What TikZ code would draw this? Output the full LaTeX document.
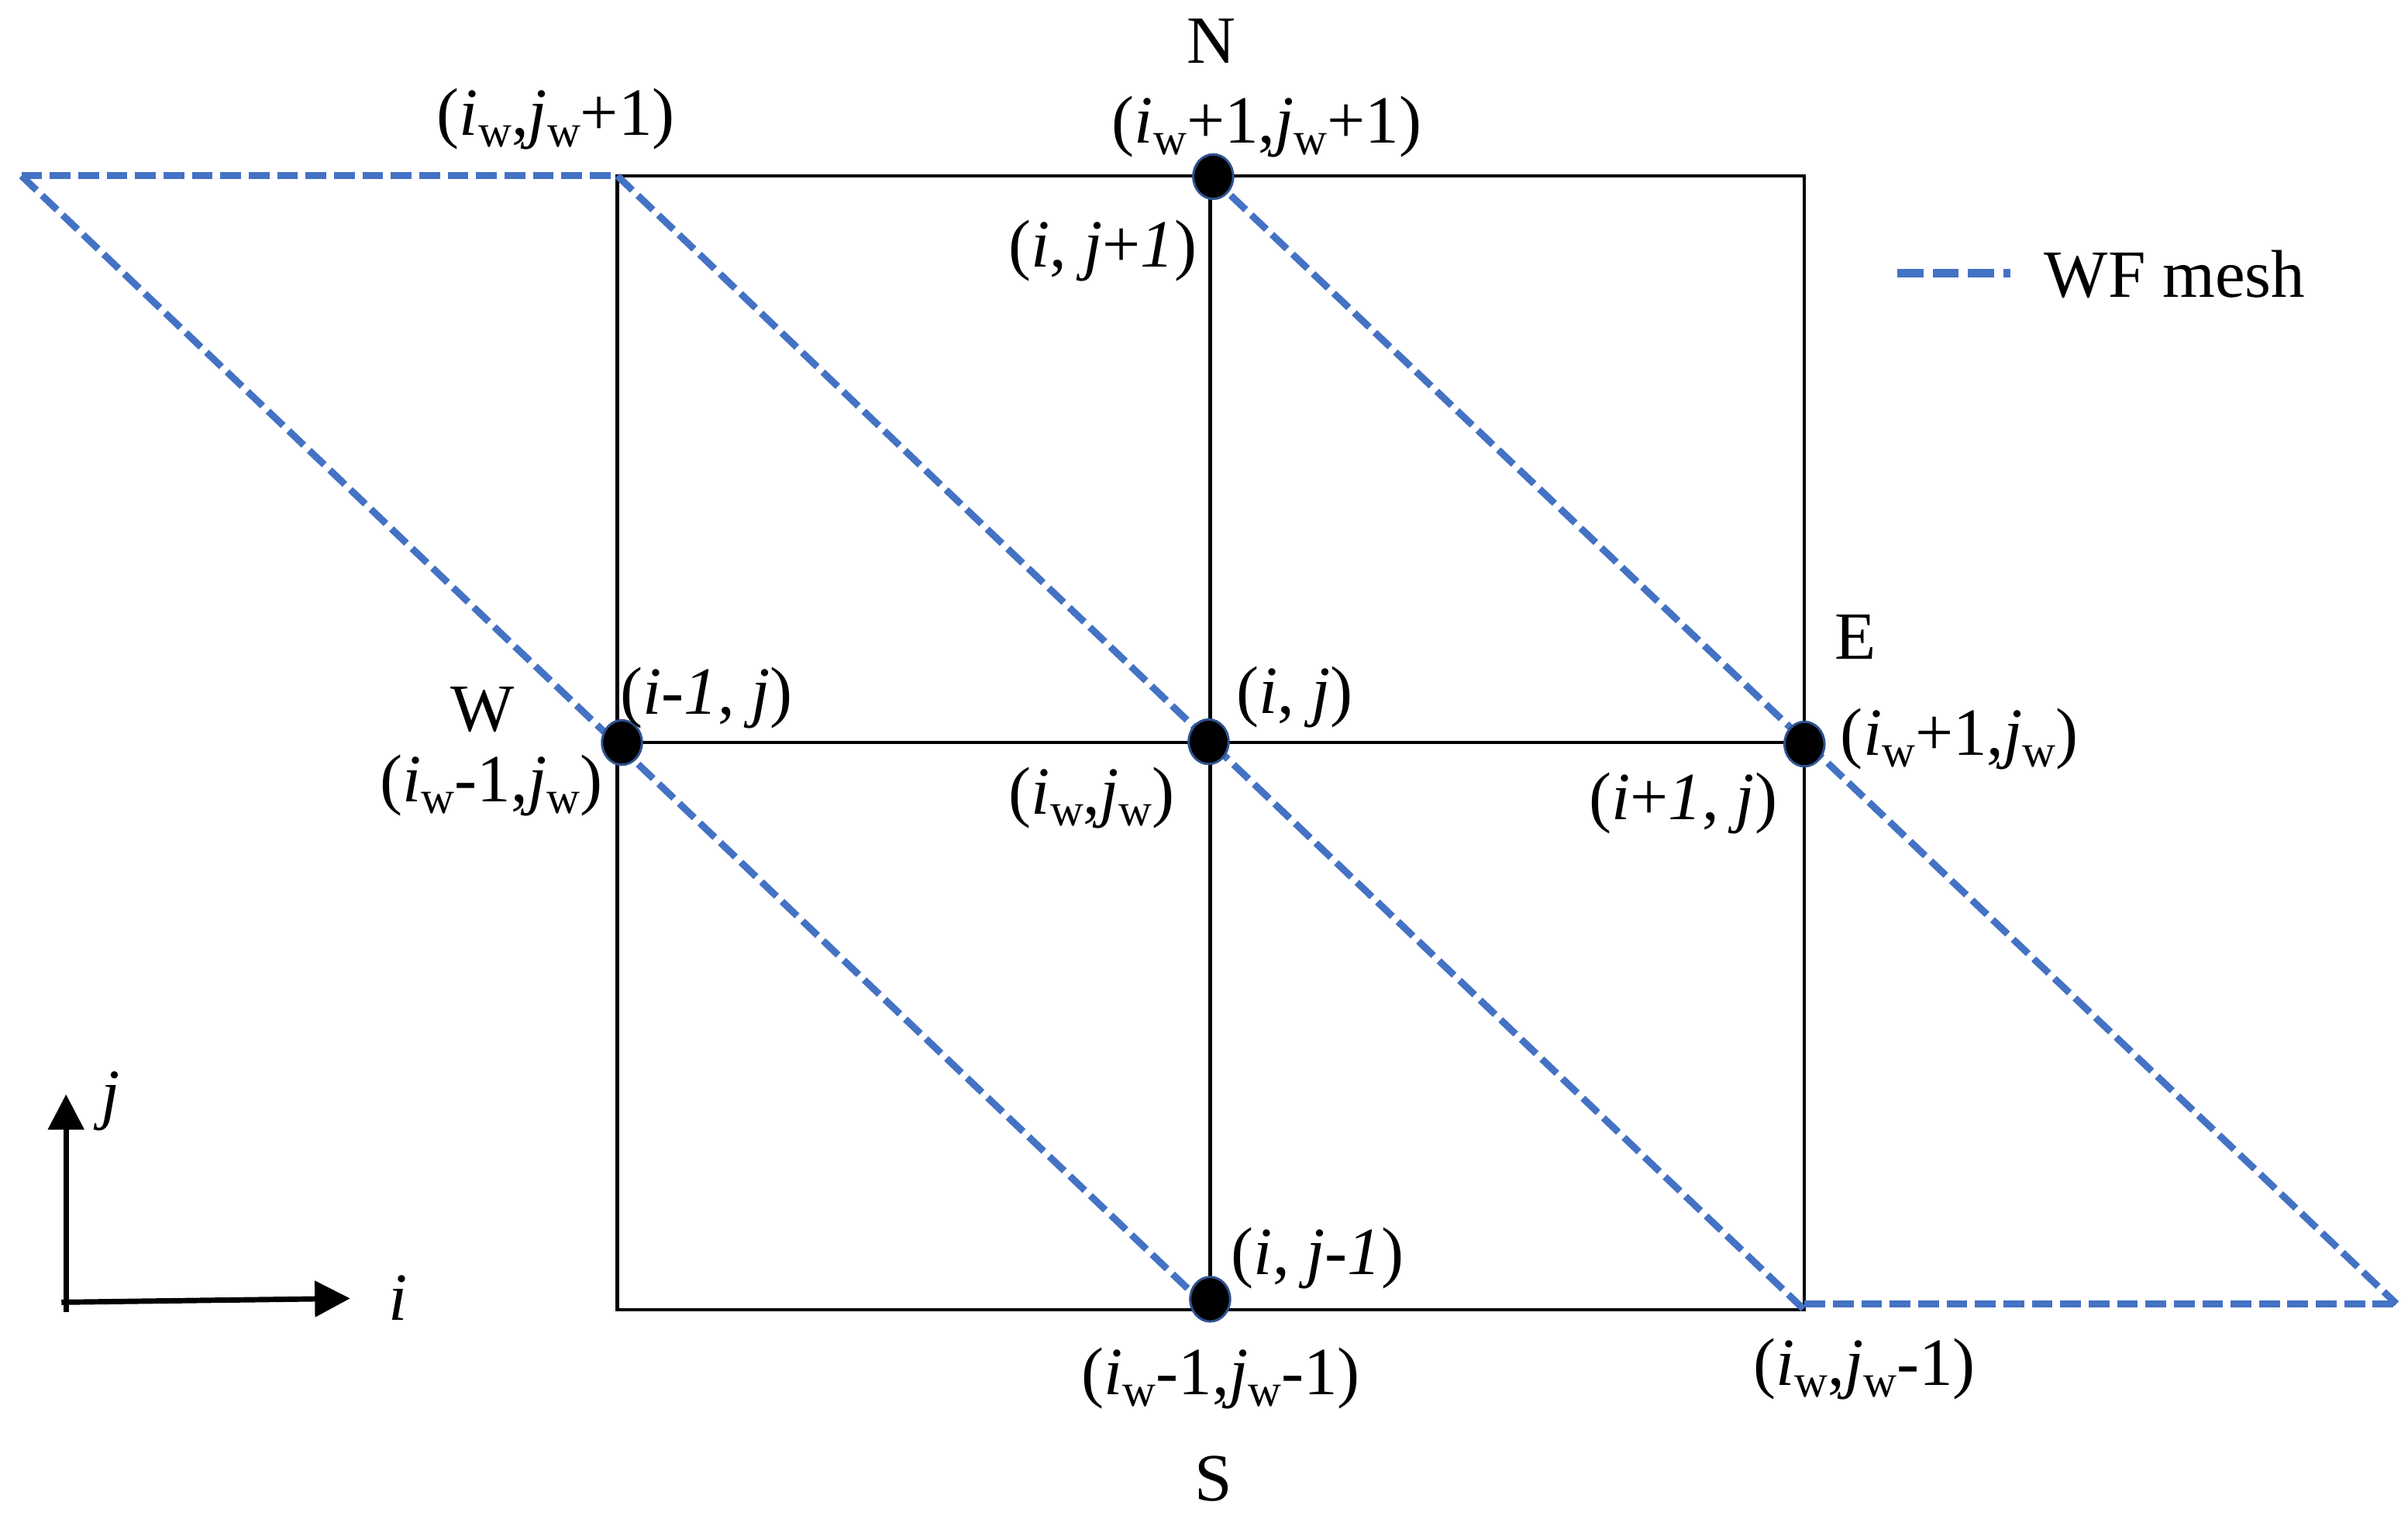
\documentclass[tikz,border=0pt]{standalone}
\usepackage{fontspec}
\setmainfont{Liberation Serif}
\usetikzlibrary{arrows.meta,shapes.geometric}
\definecolor{meshblue}{HTML}{4472C4}
\definecolor{dotedge}{HTML}{2F528F}
\newcommand\wsb{\raisebox{-7.5pt}{\fontsize{30}{30}\selectfont w}}
\newcommand\iw{\textit{i}\wsb}
\newcommand\jw{\textit{j}\wsb}
\begin{document}
\begin{tikzpicture}[x=1pt,y=-1pt,
  lbl/.style={inner sep=0pt, anchor=base, font=\fontsize{44}{50}\selectfont},
  gridline/.style={line width=2.2pt, black},
  wfmesh/.style={meshblue, line width=4.5pt, dash pattern=on 13.5pt off 5pt},
  legmesh/.style={meshblue, line width=5.5pt, dash pattern=on 17pt off 6pt},
  meshdot/.style={ellipse, fill=black, draw=dotedge, line width=1.5pt, minimum width=26pt, minimum height=29pt, inner sep=0pt},
  axisarrow/.style={line width=3.5pt, -{Triangle[length=23pt,width=23pt]}}]
\useasboundingbox (0,0) rectangle (1568,989);

% grid corner coordinates
\coordinate (TLw) at (14,114.5);
\coordinate (TL) at (402,114.5);
\coordinate (TR) at (1175,114.5);
\coordinate (BL) at (402,853);
\coordinate (BR) at (1175,853);
\coordinate (Ntop) at (788,114.5);
\coordinate (Sbot) at (788,853);
\coordinate (Wmid) at (402,483.5);
\coordinate (Emid) at (1175,483.5);
\coordinate (BRw) at (1175,849);
\coordinate (BRR) at (1560.5,849);

% solid grid
\draw[gridline] (TL) rectangle (BR);
\draw[gridline] (Ntop) -- (Sbot);
\draw[gridline] (Wmid) -- (Emid);

% WF mesh
\draw[wfmesh] (TLw) -- (TL);
\draw[wfmesh] (TLw) -- (Sbot);
\draw[wfmesh] (TL) -- (BR);
\draw[wfmesh] (Ntop) -- (BRR);
\draw[wfmesh] (BRw) -- (BRR);

% dots
\node[meshdot] (dN) at (790,115) {};
\node[meshdot] (dW) at (405,483.5) {};
\node[meshdot] (dC) at (787,483) {};
\node[meshdot] (dE) at (1175,484.5) {};
\node[meshdot] (dS) at (788,846) {};

% labels
\node[lbl] (lN) at (789,41) {N};
\node[lbl] (lNw) at (825,93) {(\iw+1,\jw+1)};
\node[lbl] (lTL) at (362,88) {(\iw,\jw+1)};
\node[lbl] (lNij) at (718,174) {(\textit{i}, \textit{j}+\textit{1})};
\node[lbl] (lWij) at (460,465) {(\textit{i-1}, \textit{j})};
\node[lbl] (lW) at (314,476) {W};
\node[lbl] (lWw) at (320,522) {(\iw-1,\jw)};
\node[lbl] (lCij) at (843,464.5) {(\textit{i}, \textit{j})};
\node[lbl] (lCw) at (711,530) {(\iw,\jw)};
\node[lbl] (lE) at (1208,429) {E};
\node[lbl] (lEw) at (1276,492) {(\iw+1,\jw)};
\node[lbl] (lEij) at (1096,533.5) {(\textit{i}+\textit{1}, \textit{j})};
\node[lbl] (lSij) at (858,830) {(\textit{i}, \textit{j-1})};
\node[lbl] (lSw) at (795,908) {(\iw-1,\jw-1)};
\node[lbl] (lBRw) at (1214,902) {(\iw,\jw-1)};
\node[lbl] (lS) at (790,977.5) {S};

% legend
\coordinate (legA) at (1235.5,178);
\coordinate (legB) at (1309,178);
\draw[legmesh] (legA) -- (legB);
\node[lbl, anchor=base west] (legT) at (1331,193.5) {WF mesh};

% axes
\coordinate (o1) at (43,854.5);
\coordinate (jtip) at (43,712.6);
\coordinate (o2) at (40,848);
\coordinate (itip) at (228,845.5);
\draw[axisarrow] (o1) -- (jtip);
\draw[axisarrow] (o2) -- (itip);
\node[lbl] (lj) at (72,727) {\textit{j}};
\node[lbl] (li) at (259,859.5) {\textit{i}};
\end{tikzpicture}
\end{document}
